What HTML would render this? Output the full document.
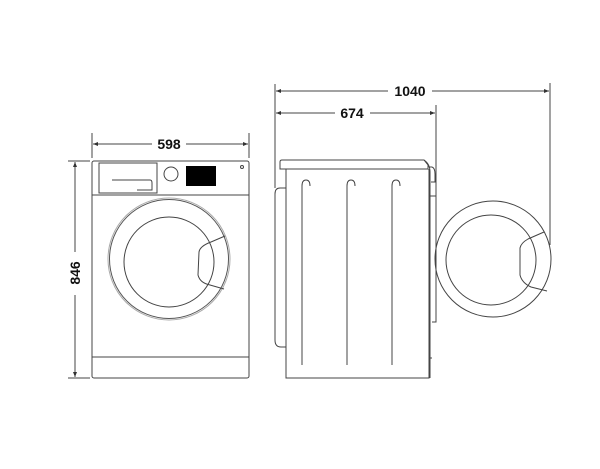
<!DOCTYPE html>
<html><head><style>
html,body{margin:0;padding:0;background:#fff;}
svg{display:block;}
text{font-family:"Liberation Sans",sans-serif;font-weight:bold;fill:#111;}
</style></head><body>
<svg width="600" height="469" viewBox="0 0 600 469" xmlns="http://www.w3.org/2000/svg">
<defs>
<marker id="a" viewBox="0 0 10 10" refX="10" refY="5" markerWidth="7" markerHeight="5" orient="auto-start-reverse"><path d="M0,1 L10,5 L0,9 Z" fill="#333"/></marker>
</defs>
<g stroke="#444" stroke-width="1" fill="none">
<line x1="92" y1="133" x2="92" y2="158"/>
<line x1="249" y1="133" x2="249" y2="158"/>
<line x1="93" y1="144" x2="152" y2="144" marker-start="url(#a)"/>
<line x1="186" y1="144" x2="248" y2="144" marker-end="url(#a)"/>
<line x1="68" y1="161" x2="90" y2="161"/>
<line x1="68" y1="378" x2="90" y2="378"/>
<line x1="75" y1="162" x2="75" y2="252" marker-start="url(#a)"/>
<line x1="75" y1="295" x2="75" y2="377" marker-end="url(#a)"/>
<rect x="92" y="161" width="157" height="217" rx="2"/>
<line x1="92" y1="195" x2="249" y2="195"/>
<line x1="92" y1="357" x2="249" y2="357"/>
<rect x="99" y="163" width="58" height="30"/>
<path d="M112,180 H150 Q152,180 152,183 V190 H137"/>
<circle cx="171" cy="174" r="7"/>
<circle cx="242" cy="167" r="1.5"/>
<circle cx="169" cy="259" r="61" stroke="#aaa" stroke-width="1"/>
<circle cx="169" cy="259" r="59.5" stroke="#555"/>
<circle cx="169" cy="262" r="45"/>
<path d="M225,236 L211,242 Q200,246 199,252 L198,275 Q200,283 210,285 L224,289"/>
<line x1="275" y1="84" x2="275" y2="188"/>
<line x1="550" y1="83" x2="550" y2="245"/>
<line x1="436" y1="105" x2="436" y2="197"/>
<line x1="276" y1="91" x2="388" y2="91" marker-start="url(#a)"/>
<line x1="432" y1="91" x2="549" y2="91" marker-end="url(#a)"/>
<line x1="276" y1="113" x2="335" y2="113" marker-start="url(#a)"/>
<line x1="370" y1="113" x2="435" y2="113" marker-end="url(#a)"/>
<path d="M280,162 Q280,160 282,160 H424 L428,165 V169 H280 Z"/>
<path d="M286,169 V378 H429 V169"/>
<path d="M286,188 H280 Q275,188 275,194 V340 Q275,347 281,347 H286"/>
<path d="M424,160 Q430,164 430,172 V378"/>
<path d="M429,167 H432 Q435,168 435,174 V182 H431"/>
<path d="M432,196 H436 V322 H432"/>
<line x1="429" y1="196" x2="432" y2="196"/>
<line x1="429" y1="358" x2="432" y2="358"/>
<path d="M302,365 V186 Q302,180 306,180 Q310,180 310,186"/>
<path d="M347,365 V186 Q347,180 351,180 Q355,180 355,186"/>
<path d="M392,365 V186 Q392,180 396,180 Q400,180 400,186"/>
<circle cx="493" cy="259" r="58"/>
<circle cx="491" cy="260" r="45"/>
<path d="M544,232 L528,239 Q521,243 520,248 L520,275 Q522,283 531,287 L547,291"/>
</g>
<g fill="#000"><rect x="186" y="166" width="30" height="20"/></g>
<text x="169" y="149" font-size="14" text-anchor="middle">598</text>
<text x="410" y="96" font-size="14" text-anchor="middle">1040</text>
<text x="352" y="118" font-size="14" text-anchor="middle">674</text>
<text x="0" y="0" font-size="14" text-anchor="middle" transform="translate(80,273) rotate(-90)">846</text>
</svg>
</body></html>
